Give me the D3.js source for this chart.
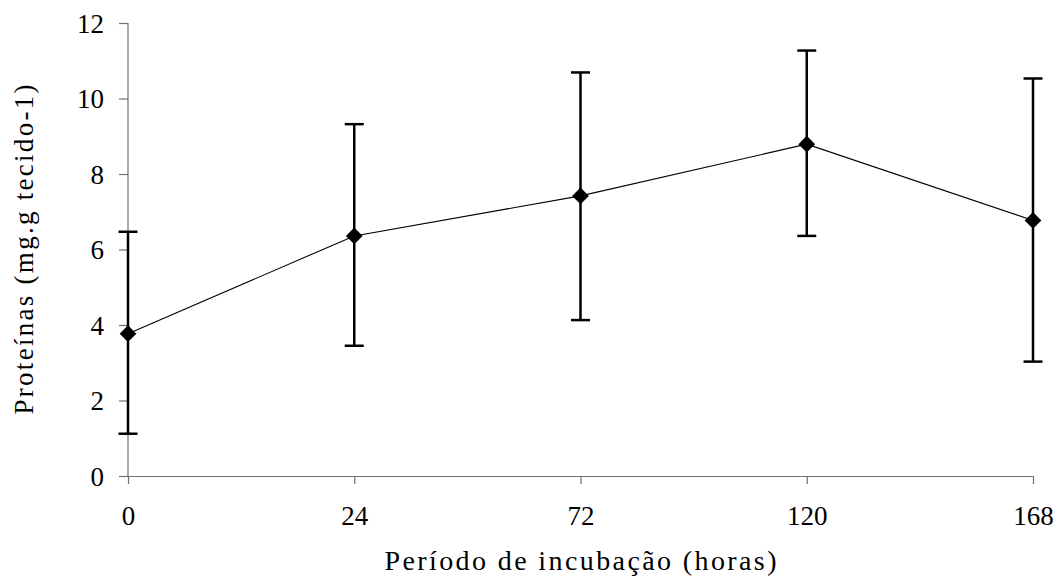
<!DOCTYPE html>
<html>
<head>
<meta charset="utf-8">
<script src="https://cdn.jsdelivr.net/npm/d3@7"></script>
<style>
  body { margin: 0; background: #fff; }
  #chart text { font-family: "Liberation Serif", "Times New Roman", serif !important; }
</style>
</head>
<body>
<div id="chart"></div>
<script>
// Data
const hours = ['0', '24', '72', '120', '168'];
const means = [3.77, 6.36, 7.42, 8.79, 6.77];
const upper = [6.47, 9.32, 10.69, 11.27, 10.53];
const lower = [1.12, 3.45, 4.13, 6.36, 3.03];
const yTicks = [0, 2, 4, 6, 8, 10, 12];

const FONT = '"Liberation Serif", "Times New Roman", serif';
const width = 1059, height = 576;
const margin = { top: 23, right: 26, bottom: 100, left: 128 };

const svg = d3.select('#chart').append('svg')
  .attr('width', width)
  .attr('height', height)
  .style('font-family', FONT);

const x = d3.scalePoint()
  .domain(hours)
  .range([margin.left, width - margin.right]);

const y = d3.scaleLinear()
  .domain([0, 12])
  .range([height - margin.bottom, margin.top]);

const points = hours.map((h, i) => ({ h, m: means[i], hi: upper[i], lo: lower[i] }));

// Axes
const yAxis = svg.append('g')
  .attr('transform', `translate(${margin.left},0)`)
  .call(d3.axisLeft(y).tickValues(yTicks).tickSize(9).tickPadding(15));

const xAxis = svg.append('g')
  .attr('transform', `translate(0,${height - margin.bottom})`)
  .call(d3.axisBottom(x).tickSize(8).tickPadding(22).tickSizeOuter(0));

[yAxis, xAxis].forEach(ax => {
  ax.attr('font-family', null).attr('font-size', null);
  ax.select('.domain').attr('stroke', '#707070').attr('stroke-width', 1.2);
  ax.selectAll('.tick line').attr('stroke', '#707070').attr('stroke-width', 1.2);
  ax.selectAll('.tick text')
    .attr('fill', '#000')
    .style('font-family', FONT)
    .style('font-size', '27px');
});
yAxis.select('.domain').attr('d', `M0,${y(12)}V${y(0)}`);
yAxis.selectAll('.tick text').attr('dy', '0.34em');

// Error bars
const eb = svg.append('g').attr('class', 'errorbars')
  .selectAll('g')
  .data(points)
  .join('g')
  .attr('stroke', '#000')
  .attr('stroke-width', 2.5);

eb.append('line')
  .attr('x1', d => x(d.h)).attr('x2', d => x(d.h))
  .attr('y1', d => y(d.hi)).attr('y2', d => y(d.lo));
eb.append('line')
  .attr('x1', d => x(d.h) - 9.5).attr('x2', d => x(d.h) + 9.5)
  .attr('y1', d => y(d.hi)).attr('y2', d => y(d.hi));
eb.append('line')
  .attr('x1', d => x(d.h) - 9.5).attr('x2', d => x(d.h) + 9.5)
  .attr('y1', d => y(d.lo)).attr('y2', d => y(d.lo));

// Line
svg.append('path')
  .datum(points)
  .attr('fill', 'none')
  .attr('stroke', '#000')
  .attr('stroke-width', 1.1)
  .attr('d', d3.line().x(d => x(d.h)).y(d => y(d.m)));

// Diamond markers
svg.append('g')
  .selectAll('path')
  .data(points)
  .join('path')
  .attr('d', d3.symbol().type(d3.symbolSquare).size(140))
  .attr('transform', d => `translate(${x(d.h)},${y(d.m)}) rotate(45)`)
  .attr('fill', '#000');

// Axis titles
svg.append('text')
  .attr('x', (margin.left + width - margin.right) / 2)
  .attr('y', 570)
  .attr('text-anchor', 'middle')
  .style('font-family', FONT)
  .style('font-size', '28px')
  .attr('textLength', 392)
  .text('Período de incubação (horas)');

svg.append('text')
  .attr('transform', `translate(33,${(y(0) + y(12)) / 2}) rotate(-90)`)
  .attr('text-anchor', 'middle')
  .style('font-family', FONT)
  .style('font-size', '27px')
  .attr('textLength', 330)
  .text('Proteínas (mg.g tecido-1)');
</script>
</body>
</html>
